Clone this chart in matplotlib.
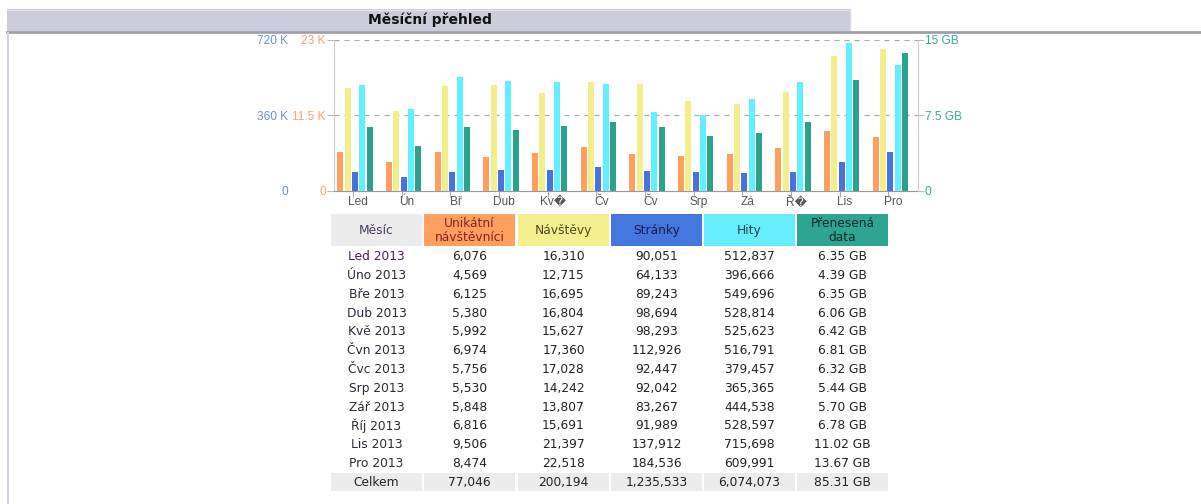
import numpy as np
import matplotlib
matplotlib.use("Agg")
import matplotlib.pyplot as plt
from matplotlib.patches import Rectangle

# Data (AWStats monthly overview, 2013)
month_ticks = ["Led", "Ún", "Bř", "Dub", "Kv\ufffd", "Čv", "Čv", "Srp", "Zá", "Ř\ufffd", "Lis", "Pro"]
month_rows = ["Led 2013", "Úno 2013", "Bře 2013", "Dub 2013", "Kvě 2013", "Čvn 2013",
              "Čvc 2013", "Srp 2013", "Zář 2013", "Říj 2013", "Lis 2013", "Pro 2013"]
unique_visitors = [6076, 4569, 6125, 5380, 5992, 6974, 5756, 5530, 5848, 6816, 9506, 8474]
visits = [16310, 12715, 16695, 16804, 15627, 17360, 17028, 14242, 13807, 15691, 21397, 22518]
pages = [90051, 64133, 89243, 98694, 98293, 112926, 92447, 92042, 83267, 91989, 137912, 184536]
hits = [512837, 396666, 549696, 528814, 525623, 516791, 379457, 365365, 444538, 528597, 715698, 609991]
bandwidth_gb = [6.35, 4.39, 6.35, 6.06, 6.42, 6.81, 6.32, 5.44, 5.70, 6.78, 11.02, 13.67]

headers = ["Měsíc", "Unikátní\nnávštěvníci", "Návštěvy", "Stránky", "Hity", "Přenesená\ndata"]
total_label = "Celkem"

# scale maxima as drawn by the original chart (labels are rounded)
max_uv, max_ph, max_k = 24000, 730000, 15
uv_labels = ["0", "11.5 K", "23 K"]
ph_labels = ["0", "360 K", "720 K"]
k_labels = ["0", "7.5 GB", "15 GB"]

# barvy
c_u = "#ff9e5e"
c_v = "#f2ee8c"
c_p = "#4a72dc"
c_h = "#62efff"
c_k = "#2ea08e"
hdr_colors = ["#ececec", "#ffa060", "#f4f090", "#4477dd", "#66eeff", "#2ea495"]
hdr_text = ["#4a3a5a", "#8b2020", "#4a4a20", "#1a1a50", "#204050", "#102a25"]

W, H = 1201, 504
fig = plt.figure(figsize=(W / 100, H / 100), dpi=100)
fig.patch.set_facecolor("white")

# background axes in pixel coordinates (title bar + table)
bg = fig.add_axes([0, 0, 1, 1], zorder=-1)
bg.set_xlim(0, W)
bg.set_ylim(H, 0)
bg.axis("off")

bg.add_patch(Rectangle((7, 9), 843, 22, facecolor="#ccccdd", edgecolor="none"))
bg.plot([7, 850], [9.5, 9.5], color="#e2e2ea", lw=1)
bg.plot([850, 850], [9, 31], color="#dcdce6", lw=1)
bg.plot([7, W], [32, 32], color="#a0a0a8", lw=2)
bg.plot([8, 8], [33, H], color="#d4d4e2", lw=1.5)
bg.text(430, 20, "Měsíční přehled", ha="center", va="center", fontsize=10,
        fontweight="bold", color="#111111", family="DejaVu Sans")

# table
col_x = [(331, 422), (424, 515), (518, 609), (611, 702), (704, 795), (797, 888)]
for (x0, x1), lab, fc, tc in zip(col_x, headers, hdr_colors, hdr_text):
    bg.add_patch(Rectangle((x0, 214), x1 - x0, 32, facecolor=fc, edgecolor="none"))
    bg.text((x0 + x1) / 2, 230.5, lab, ha="center", va="center", fontsize=8.8,
            color=tc, linespacing=1.05, family="DejaVu Sans")

row_y0, row_dy = 256.7, 18.8
for i, m in enumerate(month_rows):
    y = row_y0 + i * row_dy
    vals = [m, f"{unique_visitors[i]:,}", f"{visits[i]:,}", f"{pages[i]:,}",
            f"{hits[i]:,}", f"{bandwidth_gb[i]:.2f} GB"]
    for j, ((x0, x1), s) in enumerate(zip(col_x, vals)):
        col = "#222222"
        if j == 0:
            col = "#4b1a6e" if i == 0 else "#2a2a3a"
        bg.text((x0 + x1) / 2, y, s, ha="center", va="center", fontsize=8.8,
                color=col, family="DejaVu Sans")

y_tot = row_y0 + len(month_rows) * row_dy
totals = [total_label, f"{sum(unique_visitors):,}", f"{sum(visits):,}", f"{sum(pages):,}",
          f"{sum(hits):,}", f"{sum(bandwidth_gb):.2f} GB"]
for (x0, x1), s in zip(col_x, totals):
    bg.add_patch(Rectangle((x0, y_tot - 9), x1 - x0, 17.5, facecolor="#ececec", edgecolor="none"))
    bg.text((x0 + x1) / 2, y_tot, s, ha="center", va="center", fontsize=8.8,
            color="#222222", family="DejaVu Sans")

# chart
ax_l, ax_r, ax_t, ax_b = 334, 918, 40, 190.5
rect = [ax_l / W, 1 - ax_b / H, (ax_r - ax_l) / W, (ax_b - ax_t) / H]
ax_v = fig.add_axes(rect)
ax_p = ax_v.twinx()
ax_k = ax_v.twinx()
for a in (ax_v, ax_p, ax_k):
    a.set_facecolor("none")
    for s in a.spines.values():
        s.set_visible(False)

x = np.arange(len(month_ticks))
bw, step, shift = 0.125, 0.151, -0.07
ax_v.bar(x + shift - 2 * step, unique_visitors, bw, color=c_u)
ax_v.bar(x + shift - step, visits, bw, color=c_v)
ax_p.bar(x + shift, pages, bw, color=c_p)
ax_p.bar(x + shift + step, hits, bw, color=c_h)
ax_k.bar(x + shift + 2 * step, bandwidth_gb, bw, color=c_k)

ax_v.set_xlim(-0.5, len(month_ticks) - 0.5)
ax_v.set_ylim(0, max_uv)
ax_p.set_ylim(0, max_ph)
ax_k.set_ylim(0, max_k)

for yv in (max_uv / 2, max_uv):
    ax_v.axhline(yv, color="#aaaaaa", lw=0.9, ls=(0, (4, 4)), zorder=0)

ax_v.spines["left"].set_visible(True)
ax_v.spines["left"].set_color("#cccccc")
ax_v.spines["bottom"].set_visible(True)
ax_v.spines["bottom"].set_color("#999999")
ax_k.spines["right"].set_visible(True)
ax_k.spines["right"].set_color("#cccccc")

lab_font = ["Liberation Sans", "DejaVu Sans"]

ax_v.set_yticks([0, max_uv / 2, max_uv])
ax_v.set_yticklabels(uv_labels, color="#ffa070", fontsize=8.6, family=lab_font)
ax_v.tick_params(axis="y", length=5, color="#bbbbbb", pad=1)

ax_p.yaxis.tick_left()
ax_p.set_yticks([0, max_ph / 2, max_ph])
ax_p.set_yticklabels(ph_labels, color="#6e8fe0", fontsize=8.6, family=lab_font)
ax_p.tick_params(axis="y", length=0, pad=33)

ax_k.set_yticks([0, max_k / 2, max_k])
ax_k.set_yticklabels(k_labels, color="#3aab99", fontsize=8.6, family=lab_font)
ax_k.tick_params(axis="y", length=4, color="#bbbbbb", pad=1)

ax_v.set_xticks(x)
ax_v.set_xticklabels(month_ticks, color="#555555", fontsize=8.6, family=lab_font)
ax_v.tick_params(axis="x", length=0, pad=4)
ax_v.set_xticks(x - 0.11, minor=True)
ax_v.tick_params(axis="x", which="minor", length=4, color="#999999")

fig.savefig("out.png", dpi=100)
